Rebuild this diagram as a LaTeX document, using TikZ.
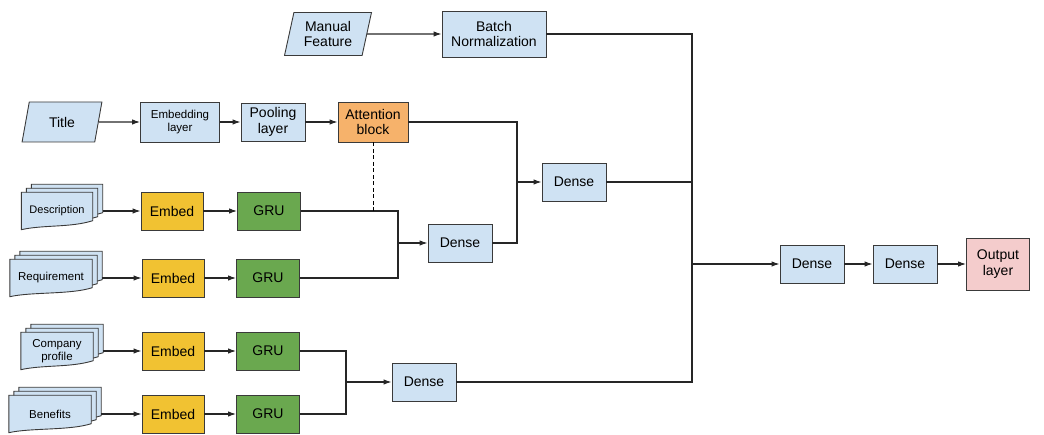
\documentclass[tikz,border=0pt]{standalone}
\usepackage{fontspec}
\setmainfont{Liberation Sans}
\usetikzlibrary{arrows.meta,shapes.geometric,backgrounds}
\definecolor{boxblue}{HTML}{CFE2F3}
\definecolor{attnorange}{HTML}{F6B26B}
\definecolor{embyellow}{HTML}{F1C232}
\definecolor{grugreen}{HTML}{6AA84F}
\definecolor{outpink}{HTML}{F4CCCC}
\definecolor{linegray}{HTML}{3A3A3A}

\tikzset{
  blk/.style={draw=linegray,line width=0.9pt,minimum width=64pt,minimum height=38pt,
    align=center,inner sep=1pt,font=\fontsize{14}{15.5}\selectfont},
  bluebox/.style={blk,fill=boxblue},
  inputbox/.style={blk,fill=boxblue,shape=trapezium,trapezium left angle=76,
    trapezium right angle=104,trapezium stretches=true},
  doctext/.style={minimum height=37pt,inner sep=1pt,align=center,
    font=\fontsize{11.5}{13.5}\selectfont},
  docpage/.style={draw=linegray,line width=0.9pt,fill=boxblue},
  link/.style={line width=1.1pt,draw=black!85},
  arr/.style={link,-{Latex[length=8pt,width=5.5pt]}},
}

% stack of three pages, front page carries the text
\newcommand{\docstack}[4]{%
  \node[doctext,minimum width=#3] (#1) at (#2) {#4};
  \begin{scope}[on background layer]
    \foreach \dx/\dy in {10/8,5/4,0/0}{
      \draw[docpage] ([xshift=\dx pt,yshift=\dy pt]#1.south west)
        -- ([xshift=\dx pt,yshift=\dy pt]#1.north west)
        -- ([xshift=\dx pt,yshift=\dy pt]#1.north east)
        -- ([xshift=\dx pt,yshift=\dy pt+9pt]#1.south east)
        .. controls +(-22pt,-7pt) and +(22pt,5pt) ..
        ([xshift=\dx pt,yshift=\dy pt]#1.south west) -- cycle;
    }
  \end{scope}}

\begin{document}
\begin{tikzpicture}[x=1pt,y=-1pt]
  \useasboundingbox (0,0) rectangle (1044,435);

  % top rows
  \node[inputbox,minimum width=87pt,minimum height=43pt] (manual) at (328,34) {Manual\\Feature};
  \node[bluebox,minimum width=104pt,minimum height=46pt] (batch) at (494,34) {Batch\\Normalization};

  \node[inputbox,minimum width=80pt,minimum height=40pt] (title) at (62,122) {Title};
  \node[bluebox,minimum width=79pt,minimum height=40pt,font=\fontsize{11.5}{13.5}\selectfont] (embl) at (180,122) {Embedding\\layer};
  \node[bluebox] (pool) at (273,122) {Pooling\\layer};
  \node[blk,fill=attnorange,minimum width=70pt,minimum height=40pt] (attn) at (373,122) {Attention\\block};

  % text inputs
  \docstack{desc}{57,211}{71pt}{\fontsize{11}{13}\selectfont Description}
  \docstack{req}{51,278}{82pt}{Requirement}
  \docstack{comp}{57,351}{72pt}{Company\\profile}
  \docstack{ben}{50,414}{82pt}{Benefits}

  \node[blk,fill=embyellow,minimum width=62pt] (emb1) at (172,211) {Embed};
  \node[blk,fill=embyellow,minimum width=62pt] (emb2) at (173,278) {Embed};
  \node[blk,fill=embyellow,minimum width=62pt] (emb3) at (173,351) {Embed};
  \node[blk,fill=embyellow,minimum width=62pt] (emb4) at (173,414) {Embed};

  \node[blk,fill=grugreen,minimum width=63pt] (gru1) at (269,211) {GRU};
  \node[blk,fill=grugreen,minimum width=63pt] (gru2) at (268,278) {GRU};
  \node[blk,fill=grugreen,minimum width=63pt] (gru3) at (268,351) {GRU};
  \node[blk,fill=grugreen,minimum width=63pt] (gru4) at (268,414) {GRU};

  \node[bluebox] (dense1) at (460,243) {Dense};
  \node[bluebox] (dense2) at (574,182) {Dense};
  \node[bluebox] (dense3) at (424,382) {Dense};
  \node[bluebox] (dense4) at (812,264) {Dense};
  \node[bluebox] (dense5) at (905,264) {Dense};
  \node[blk,fill=outpink,minimum width=63pt,minimum height=52pt] (out) at (998,264) {Output\\layer};

  % junctions
  \coordinate (j1) at (398,243);
  \coordinate (j2) at (517,182);
  \coordinate (j3) at (346,382);
  \coordinate (j4) at (692,264);

  \draw[arr] (manual) -- (batch);
  \draw[arr] (title) -- (embl);
  \draw[arr] (embl) -- (pool);
  \draw[arr] (pool) -- (attn);

  \draw[arr] ([xshift=10pt]desc.east) -- (emb1);
  \draw[arr] ([xshift=10pt]req.east) -- (emb2);
  \draw[arr] ([xshift=10pt]comp.east) -- (emb3);
  \draw[arr] ([xshift=10pt]ben.east) -- (emb4);
  \draw[arr] (emb1) -- (gru1);
  \draw[arr] (emb2) -- (gru2);
  \draw[arr] (emb3) -- (gru3);
  \draw[arr] (emb4) -- (gru4);

  \draw[link] (gru1) -| (j1);
  \draw[link] (gru2) -| (j1);
  \draw[arr] (j1) -- (dense1);
  \draw[dash pattern=on 4pt off 2.5pt,line width=0.7pt] (attn.south) -- (attn.south |- gru1.east);

  \draw[link] (attn) -| (j2);
  \draw[link] (dense1) -| (j2);
  \draw[arr] (j2) -- (dense2);

  \draw[link] (gru3) -| (j3);
  \draw[link] (gru4) -| (j3);
  \draw[arr] (j3) -- (dense3);

  \draw[link] (batch) -| (j4);
  \draw[link] (dense2) -| (j4);
  \draw[link] (dense3) -| (j4);
  \draw[arr] (j4) -- (dense4);
  \draw[arr] (dense4) -- (dense5);
  \draw[arr] (dense5) -- (out);
\end{tikzpicture}
\end{document}
